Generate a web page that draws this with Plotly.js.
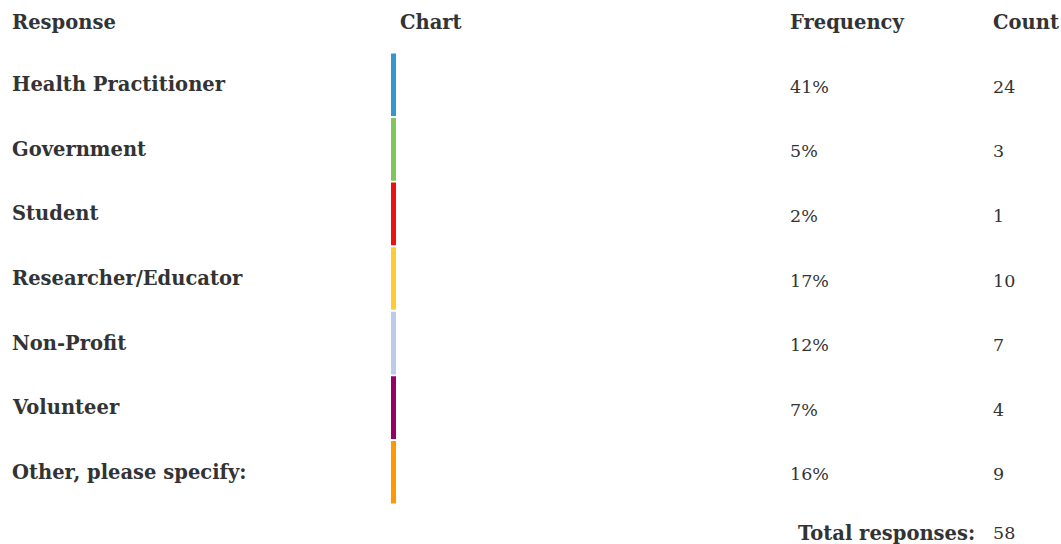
<!DOCTYPE html>
<html>
<head>
<meta charset="utf-8">
<script src="https://cdn.plot.ly/plotly-3.0.1.min.js"></script>
<style>html,body{margin:0;padding:0;background:#fff;}#chart{width:1061px;height:544px;}</style>
</head>
<body>
<div id="chart"></div>
<script>
const headers = ["Response", "Chart", "Frequency", "Count"];
const responses = ["Health Practitioner", "Government", "Student", "Researcher/Educator", "Non-Profit", "Volunteer", "Other, please specify:"];
const frequencies = [41, 5, 2, 17, 12, 7, 16];
const counts = [24, 3, 1, 10, 7, 4, 9];
const totalLabel = "Total responses:";
const totalCount = 58;
const colors = ["#3399cc", "#80c65a", "#ee1111", "#ffcc33", "#bccbe9", "#990066", "#ff9900"];

const W = 1061, H = 544;
const px = v => v / W;
const py = v => 1 - v / H;
const FONT = "Georgia, 'DejaVu Serif', serif";
const TXT = "#333333";
const boldSize = 19.5, valSize = 17.5;

const trace = {
  type: "bar",
  orientation: "h",
  y: responses,
  x: responses.map(() => 1),
  base: 0,
  marker: { color: colors, line: { width: 0 } },
  hoverinfo: "skip"
};

const ann = [];
const colX = [10, 398, 788, 991];
headers.forEach((h, i) => ann.push({
  text: "<b>" + h + "</b>", xref: "paper", yref: "paper", x: px(colX[i]), y: py(23),
  xanchor: "left", yanchor: "middle", showarrow: false, font: { family: FONT, size: boldSize, color: TXT }
}));
responses.forEach((r, i) => {
  ann.push({ text: "<b>" + r + "</b>", xref: "paper", yref: "y", x: px(10), y: r, xanchor: "left", yanchor: "middle",
    showarrow: false, font: { family: FONT, size: boldSize, color: TXT } });
  ann.push({ text: frequencies[i] + "%", xref: "paper", yref: "y", x: px(788), y: r, xanchor: "left", yanchor: "middle",
    yshift: -2, showarrow: false, font: { family: FONT, size: valSize, color: TXT } });
  ann.push({ text: String(counts[i]), xref: "paper", yref: "y", x: px(991), y: r, xanchor: "left", yanchor: "middle",
    yshift: -2, showarrow: false, font: { family: FONT, size: valSize, color: TXT } });
});
ann.push({ text: "<b>" + totalLabel + "</b>", xref: "paper", yref: "paper", x: px(977), y: py(533),
  xanchor: "right", yanchor: "middle", showarrow: false, font: { family: FONT, size: boldSize, color: TXT } });
ann.push({ text: String(totalCount), xref: "paper", yref: "paper", x: px(991), y: py(533),
  xanchor: "left", yanchor: "middle", showarrow: false, font: { family: FONT, size: valSize, color: TXT } });

const layout = {
  width: W, height: H,
  margin: { l: 0, r: 0, t: 0, b: 0, pad: 0 },
  paper_bgcolor: "#ffffff", plot_bgcolor: "#ffffff",
  showlegend: false,
  bargap: 0.03,
  xaxis: { range: [0, 1], domain: [px(391), px(396)], visible: false, fixedrange: true },
  yaxis: { type: "category", autorange: "reversed", domain: [py(504.5), py(52.5)], visible: false, fixedrange: true },
  annotations: ann
};

Plotly.newPlot("chart", [trace], layout, { displayModeBar: false, staticPlot: true });
</script>
</body>
</html>
